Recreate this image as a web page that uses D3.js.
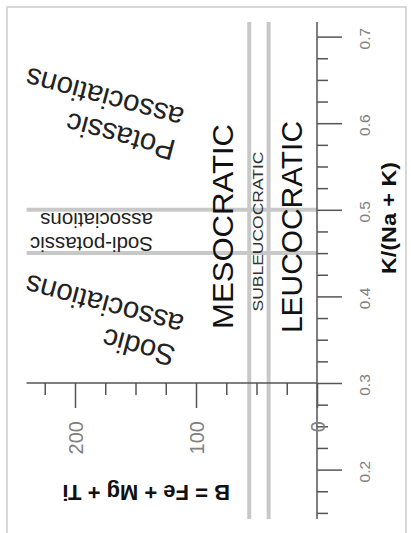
<!DOCTYPE html>
<html><head><meta charset="utf-8">
<script src="https://cdn.jsdelivr.net/npm/d3@7"></script>
<style>
body{margin:0;background:#fff}
svg{display:block}
text{font-family:"Liberation Sans",Arial,Helvetica,sans-serif}
</style></head>
<body><svg id="c" width="411" height="533"></svg>
<script>
// ---- data ----
const kTickLabels = [0.2, 0.3, 0.4, 0.5, 0.6, 0.7];
const kMinorStep = 0.025;
const bTickLabels = [0, 100, 200];
const bMinorStep = 25;
const kBoundaries = [0.45, 0.5];
const bBoundaries = [56, 40];
const bLimits = [0, 240];
const kLimits = [0.143, 0.717];
const fieldLabels = ["MESOCRATIC", "SUBLEUCOCRATIC", "LEUCOCRATIC"];
const potassicLines = ["Potassic", "associations"];
const sodiPotassicLines = ["Sodi-potassic", "associations"];
const sodicLines = ["Sodic", "associations"];
const kTitle = "K/(Na + K)";
const bTitle = "B = Fe + Mg + Ti";

// ---- scales ----
const yK = d3.scaleLinear().domain([0.3, 0.7]).range([383, 36.6]);
const xB = d3.scaleLinear().domain([0, 200]).range([317, 75]);

const svg = d3.select("#c");

// frame
svg.append("rect").attr("x", 7).attr("y", 7).attr("width", 399).attr("height", 600)
  .attr("fill", "none").attr("stroke", "#cfcfcf").attr("stroke-width", 1.6);

// grey boundary lines
const g = svg.append("g");
g.selectAll(".vb").data(bBoundaries).join("line")
  .attr("x1", d => xB(d)).attr("x2", d => xB(d))
  .attr("y1", yK(kLimits[1])).attr("y2", yK(kLimits[0]))
  .attr("stroke", "#c8c8c8").attr("stroke-width", 4);
g.selectAll(".hb").data(kBoundaries).join("line")
  .attr("y1", d => yK(d)).attr("y2", d => yK(d))
  .attr("x1", xB(bLimits[1])).attr("x2", xB(bLimits[0]))
  .attr("stroke", "#c8c8c8").attr("stroke-width", 4);

// field labels (rotated -90)
const fieldPos = [
  {x: 233, y: 226.5, size: 29, len: 205, fill: "#111"},
  {x: 263, y: 231.5, size: 15.5, len: 160, fill: "#333"},
  {x: 302, y: 227, size: 29, len: 212, fill: "#111"}
];
fieldLabels.forEach((t, i) => {
  const p = fieldPos[i];
  svg.append("text").text(t)
    .attr("transform", `translate(${p.x},${p.y}) rotate(-90)`)
    .attr("text-anchor", "middle")
    .attr("font-size", p.size)
    .attr("textLength", p.len).attr("lengthAdjust", "spacingAndGlyphs")
    .attr("fill", p.fill);
});

// association labels (upside down, tilted)
function block(lines, x0, y0, angle, size, lh) {
  const a = angle * Math.PI / 180;
  const dx = -Math.sin(a), dy = Math.cos(a);
  lines.forEach((t, i) => {
    svg.append("text").text(t)
      .attr("transform", `translate(${x0 + dx * lh * i},${y0 + dy * lh * i}) rotate(${angle})`)
      .attr("text-anchor", "start")
      .attr("font-size", size)
      .attr("fill", "#222");
  });
}
block(potassicLines, 177, 141, 195, 29.5, 33);
block(sodicLines, 177, 347, 195, 29.5, 32);
block(sodiPotassicLines, 153, 237, 180, 20.5, 24);

// K axis (vertical)
const kAll = d3.range(Math.round(0.15 / kMinorStep), Math.round(0.7 / kMinorStep) + 1).map(i => +(i * kMinorStep).toFixed(3));
const kAxis = d3.axisRight(yK).tickValues(kAll).tickFormat("").tickSizeOuter(0);
const kg = svg.append("g").attr("transform", `translate(${xB(0)},0)`).call(kAxis);
kg.select(".domain").remove();
kg.selectAll(".tick line")
  .attr("x2", d => kTickLabels.some(v => Math.abs(v - d) < 1e-6) ? 25 : 11)
  .attr("stroke", "#555").attr("stroke-width", 1.5);
kg.append("line").attr("x1", 0).attr("x2", 0)
  .attr("y1", yK(kLimits[1])).attr("y2", yK(kLimits[0]))
  .attr("stroke", "#555").attr("stroke-width", 1.5);

// B axis (horizontal)
const bAll = d3.range(0, bLimits[1] / bMinorStep).map(i => i * bMinorStep);
const bAxis = d3.axisBottom(xB).tickValues(bAll).tickFormat("").tickSizeOuter(0);
const bg = svg.append("g").attr("transform", `translate(0,${yK(0.3)})`).call(bAxis);
bg.select(".domain").remove();
bg.selectAll(".tick line")
  .attr("y2", d => bTickLabels.includes(d) ? 25 : 12)
  .attr("stroke", "#555").attr("stroke-width", 1.5);
bg.append("line").attr("y1", 0).attr("y2", 0)
  .attr("x1", xB(bLimits[1])).attr("x2", xB(bLimits[0]))
  .attr("stroke", "#555").attr("stroke-width", 1.5);

// K tick labels
svg.selectAll(".kl").data(kTickLabels).join("text")
  .attr("transform", d => `translate(370,${yK(d) + 2}) rotate(-90)`)
  .attr("text-anchor", "middle").attr("font-size", 15.5).attr("fill", "#808080")
  .text(d => d.toFixed(1));

// B tick labels
svg.selectAll(".bl").data(bTickLabels).join("text")
  .attr("transform", d => `translate(${xB(d) + 7.5},421) rotate(-90)`)
  .attr("text-anchor", "end").attr("font-size", 20).attr("fill", "#808080")
  .text(d => d);

// axis titles
svg.append("text").text(kTitle)
  .attr("transform", "translate(396,218) rotate(-90)")
  .attr("text-anchor", "middle").attr("font-size", 21).attr("font-weight", "bold")
  .attr("textLength", 112).attr("lengthAdjust", "spacingAndGlyphs").attr("fill", "#111");
svg.append("text").text(bTitle)
  .attr("transform", "translate(230,485) rotate(180)")
  .attr("text-anchor", "start").attr("font-size", 22).attr("font-weight", "bold")
  .attr("fill", "#111");
</script></body></html>
